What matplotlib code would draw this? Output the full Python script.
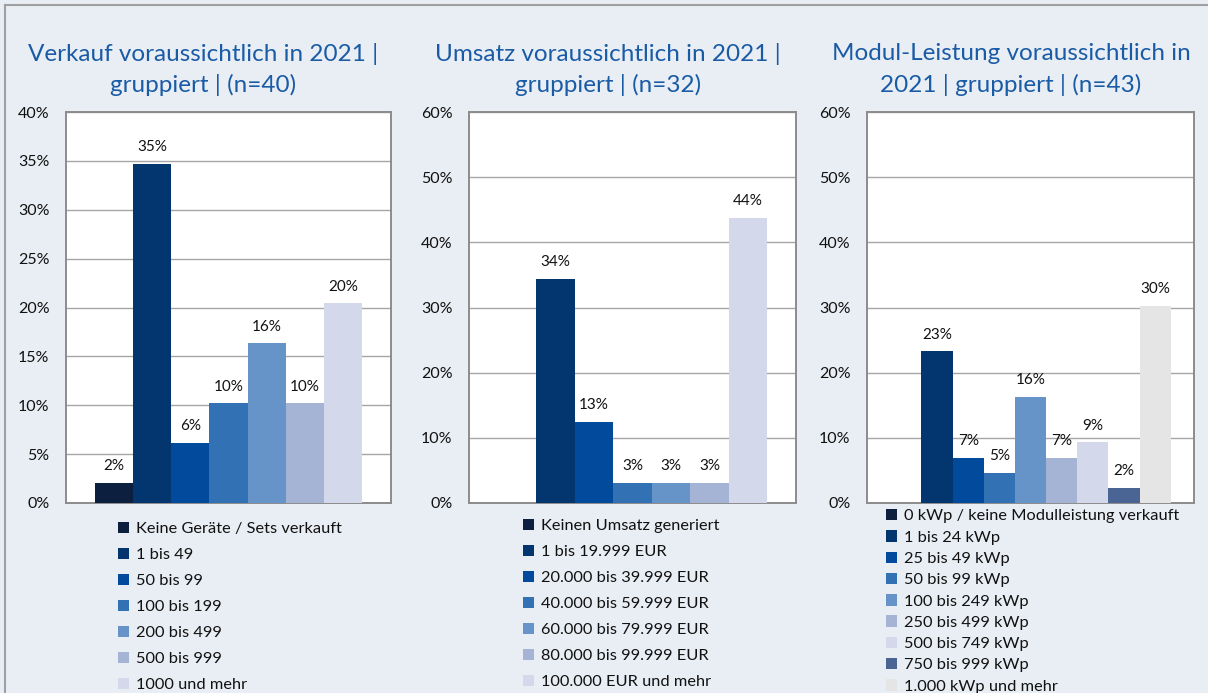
import matplotlib.pyplot as plt
from matplotlib.lines import Line2D
import numpy as np

plt.rcParams['font.family'] = ['Lato', 'DejaVu Sans']

# colours used by the series (dark to light)
palette = ["#0c1f3e", "#03356f", "#024a9c", "#3371b5", "#6794c8",
           "#a5b4d4", "#d3d8ea", "#4a6494", "#e5e5e5"]

# --- panel 1: Verkauf
sales_title = "Verkauf voraussichtlich in 2021 |\ngruppiert | (n=40)"
sales_labels = ["Keine Geräte / Sets verkauft", "1 bis 49", "50 bis 99",
                "100 bis 199", "200 bis 499", "500 bis 999", "1000 und mehr"]
sales_values = [2.04, 34.69, 6.12, 10.20, 16.33, 10.20, 20.41]
sales_ticks = [0, 5, 10, 15, 20, 25, 30, 35, 40]

# --- panel 2: Umsatz
revenue_title = "Umsatz voraussichtlich in 2021 |\ngruppiert | (n=32)"
revenue_labels = ["Keinen Umsatz generiert", "1 bis 19.999 EUR",
                  "20.000 bis 39.999 EUR", "40.000 bis 59.999 EUR",
                  "60.000 bis 79.999 EUR", "80.000 bis 99.999 EUR",
                  "100.000 EUR und mehr"]
revenue_values = [0.0, 34.38, 12.50, 3.13, 3.13, 3.13, 43.75]
revenue_ticks = [0, 10, 20, 30, 40, 50, 60]

# --- panel 3: Modul-Leistung
power_title = "Modul-Leistung voraussichtlich in\n2021 | gruppiert | (n=43)"
power_labels = ["0 kWp / keine Modulleistung verkauft", "1 bis 24 kWp",
                "25 bis 49 kWp", "50 bis 99 kWp", "100 bis 249 kWp",
                "250 bis 499 kWp", "500 bis 749 kWp", "750 bis 999 kWp",
                "1.000 kWp und mehr"]
power_values = [0.0, 23.26, 6.98, 4.65, 16.28, 6.98, 9.30, 2.33, 30.23]
power_ticks = [0, 10, 20, 30, 40, 50, 60]

W, H = 1208, 693
BG = "#e9eef4"
TITLE_COLOR = "#1a5ba6"
GRID = "#a6a6a6"


def px_box(left, top, right, bottom):
    return [left / W, 1 - bottom / H, (right - left) / W, (bottom - top) / H]


def draw_panel(fig, box, title, title_x, labels, values, ticks,
               legend_xy, legend_spacing):
    ax = fig.add_axes(px_box(*box))
    ax.set_facecolor("white")
    n = len(values)
    group = n / (n + 1.5)
    width = group / n
    xs = -group / 2 + (np.arange(n) + 0.5) * width
    for i in range(n):
        ax.bar(xs[i], values[i], width=width, color=palette[i],
               label=labels[i], zorder=3)
        if values[i] > 0:
            ax.annotate(f"{int(np.floor(values[i] + 0.5))}%",
                        (xs[i], values[i]), xytext=(0, 7),
                        textcoords="offset points", ha="center", va="bottom",
                        fontsize=11, color="#111111", zorder=4)
    ax.set_xlim(-0.5, 0.5)
    ax.set_ylim(ticks[0], ticks[-1])
    ax.set_yticks(ticks)
    ax.set_yticklabels([f"{t}%" for t in ticks])
    ax.set_xticks([])
    ax.tick_params(axis="y", length=0, pad=12, labelsize=11.5,
                   labelcolor="#111111")
    ax.grid(axis="y", color=GRID, linewidth=1, zorder=0)
    for s in ax.spines.values():
        s.set_color("#8c8c8c")
        s.set_linewidth(1.4)

    fig.text(title_x / W, 1 - 69.5 / H, title, ha="center", va="center",
             fontsize=17.5, color=TITLE_COLOR, linespacing=1.5)

    ax.legend(loc="upper left",
              bbox_to_anchor=(legend_xy[0] / W, 1 - legend_xy[1] / H),
              bbox_transform=fig.transFigure, frameon=False, fontsize=11.8,
              handlelength=0.7, handleheight=0.7, handletextpad=0.4,
              labelspacing=legend_spacing, borderaxespad=0, borderpad=0,
              labelcolor="#111111")
    return ax


fig = plt.figure(figsize=(W / 100, H / 100), dpi=100)
fig.patch.set_facecolor(BG)

# outer frame (top and left edge visible)
fig.add_artist(Line2D([5 / W, 1], [1 - 5 / H, 1 - 5 / H], color="#a0a0a0",
                      linewidth=1.5, transform=fig.transFigure))
fig.add_artist(Line2D([5 / W, 5 / W], [0, 1 - 5 / H], color="#a0a0a0",
                      linewidth=1.5, transform=fig.transFigure))

draw_panel(fig, (66, 112, 391, 503), sales_title, 203, sales_labels,
           sales_values, sales_ticks, (118, 522), 0.7)
draw_panel(fig, (469, 112, 796, 503), revenue_title, 608, revenue_labels,
           revenue_values, revenue_ticks, (523, 519), 0.7)
draw_panel(fig, (867, 112, 1194, 503), power_title, 1011, power_labels,
           power_values, power_ticks, (886, 509), 0.415)

fig.savefig("out.png", dpi=100, facecolor=BG)
